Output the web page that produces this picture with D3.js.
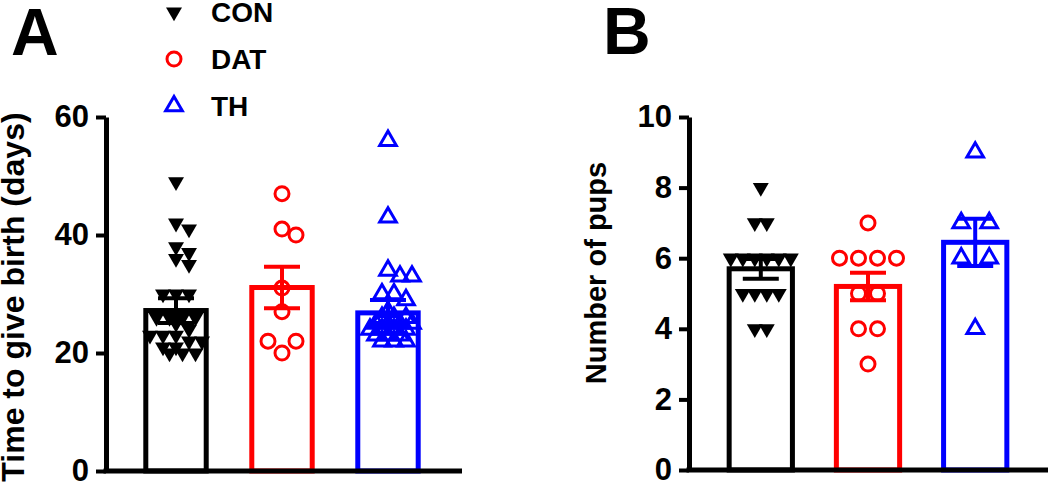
<!DOCTYPE html>
<html>
<head>
<meta charset="utf-8">
<script src="https://cdn.jsdelivr.net/npm/d3@7/dist/d3.min.js"></script>
<style>
  html, body { margin: 0; padding: 0; background: #fff; }
  svg { display: block; font-family: "Liberation Sans", Arial, Helvetica, sans-serif; font-weight: bold; }
</style>
</head>
<body>
<svg id="chart" width="1050" height="489"></svg>
<script>
// ---------------- data ----------------
const groups = ["CON", "DAT", "TH"];
const groupColors = ["#000000", "#ff0000", "#0000ff"];
const groupShapes = ["down", "circle", "up"];

// Panel A: time to give birth (days)
const birthCON = [49, 42, 41, 38, 37, 36, 35, 30, 30, 30, 26, 26, 26, 26, 25, 24, 23, 23, 23, 22, 22, 21, 21, 20, 20, 20];
const birthDAT = [47, 41, 40, 31, 27, 22, 22, 20];
const birthTH  = [56, 43, 34, 33, 33, 30, 30, 29, 27, 26, 26, 26, 25, 25, 25, 25, 24, 24, 24, 24, 23, 23, 23, 22, 22, 22];
const birthMean = [27.2, 31.1, 26.8];
const birthSEM  = [2.1, 3.5, 2.2];
const birthTicks = [0, 20, 40, 60];

// Panel B: number of pups
const pupsCON = [8, 7, 7, 6, 6, 6, 6, 6, 6, 5, 5, 5, 5, 4, 4];
const pupsDAT = [7, 6, 6, 6, 6, 5, 5, 4, 4, 3];
const pupsTH  = [9, 7, 7, 6, 6, 4];
const pupsMean = [5.7, 5.2, 6.45];
const pupsSEM  = [0.28, 0.39, 0.67];
const pupsTicks = [0, 2, 4, 6, 8, 10];

// ---------------- drawing ----------------
const svg = d3.select("#chart");

function symbolPath(shape) {
  if (shape === "circle") return d3.symbol(d3.symbolCircle, Math.PI * 7 * 7)();
  if (shape === "down") return d3.symbol(d3.symbolTriangle, 110)();
  return d3.symbol(d3.symbolTriangle, 120)();
}
function drawMarker(g, shape, color) {
  const p = g.append("path").attr("d", symbolPath(shape));
  if (shape === "down") {
    p.attr("transform", "rotate(180)").attr("fill", color).attr("stroke", "none");
  } else {
    p.attr("fill", "none").attr("stroke", color).attr("stroke-width", 3);
  }
  return p;
}

// beeswarm-like placement: equal values form centred rows, rows shift to avoid overlap
function swarm(values, y, spacing, minD) {
  const counts = d3.rollups(values, v => v.length, d => d).sort((a, b) => b[0] - a[0]);
  const placed = [];
  for (const [v, k] of counts) {
    const py = y(v);
    const base = d3.range(k).map(i => (i - (k - 1) / 2) * spacing);
    const shifts = [0, spacing / 2, -spacing / 2, spacing, -spacing, 1.5 * spacing, -1.5 * spacing];
    let best = 0, bestScore = -Infinity;
    for (const s of shifts) {
      let mind = Infinity;
      for (const b of base) for (const p of placed) {
        mind = Math.min(mind, Math.hypot(b + s - p.dx, py - p.y));
      }
      if (mind >= minD) { best = s; bestScore = Infinity; break; }
      if (mind > bestScore) { bestScore = mind; best = s; }
    }
    for (const b of base) placed.push({ v, dx: b + best, y: py });
  }
  return placed;
}

function panel(cfg) {
  const g = svg.append("g");
  const y = d3.scaleLinear().domain(cfg.domain).range([cfg.bottom, cfg.top]);
  const x = d3.scaleBand().domain(groups).range(cfg.xRange).paddingInner(cfg.padIn).paddingOuter(0.3);

  // bars
  g.selectAll("rect.bar").data(groups).join("rect")
    .attr("class", "bar")
    .attr("x", d => x(d))
    .attr("width", x.bandwidth())
    .attr("y", (d, i) => y(cfg.means[i]))
    .attr("height", (d, i) => y(0) - y(cfg.means[i]))
    .attr("fill", "#fff")
    .attr("stroke", (d, i) => groupColors[i])
    .attr("stroke-width", 5);

  // points
  groups.forEach((grp, i) => {
    const cx = x(grp) + x.bandwidth() / 2;
    const pts = swarm(cfg.values[i], y, cfg.spacing[i], groupShapes[i] === "circle" ? 14 : 9);
    pts.forEach(p => {
      const mg = g.append("g").attr("transform", `translate(${cx + p.dx},${p.y})`);
      drawMarker(mg, groupShapes[i], groupColors[i]);
    });
  });

  // error bars
  groups.forEach((grp, i) => {
    const cx = x(grp) + x.bandwidth() / 2;
    const hi = y(cfg.means[i] + cfg.sems[i]);
    const lo = y(cfg.means[i] - cfg.sems[i]);
    const eg = g.append("g").attr("stroke", groupColors[i]).attr("stroke-width", 4);
    eg.append("line").attr("x1", cx).attr("x2", cx).attr("y1", hi).attr("y2", lo);
    eg.append("line").attr("x1", cx - 18).attr("x2", cx + 18).attr("y1", hi).attr("y2", hi);
    eg.append("line").attr("x1", cx - 18).attr("x2", cx + 18).attr("y1", lo).attr("y2", lo);
  });

  // y axis
  const ax = g.append("g")
    .attr("transform", `translate(${cfg.axisX},0)`)
    .call(d3.axisLeft(y).tickValues(cfg.ticks).tickSize(10).tickSizeOuter(0).tickPadding(7).tickFormat(d3.format("d")));
  ax.select(".domain").attr("stroke", "#000").attr("stroke-width", 5);
  ax.selectAll(".tick line").attr("stroke", "#000").attr("stroke-width", 4);
  ax.selectAll(".tick text")
    .attr("fill", "#000")
    .style("font-size", cfg.tickFont + "px")
    .style("font-weight", "bold")
    .style("font-family", "'Liberation Sans', Arial, sans-serif");

  // x axis baseline
  g.append("line")
    .attr("x1", cfg.axisX - 2.5).attr("x2", cfg.xEnd)
    .attr("y1", y(0)).attr("y2", y(0))
    .attr("stroke", "#000").attr("stroke-width", 5);

  // y title
  g.append("text")
    .attr("transform", `translate(${cfg.titleX},${cfg.titleY}) rotate(-90)`)
    .attr("text-anchor", "middle")
    .style("font-size", cfg.titleFont + "px")
    .text(cfg.title);

  // panel letter
  g.append("text")
    .attr("x", cfg.letterX).attr("y", cfg.letterY)
    .style("font-size", "66px")
    .text(cfg.letter);
}

panel({
  letter: "A", letterX: 11, letterY: 55,
  domain: [0, 60], top: 117, bottom: 471, ticks: birthTicks,
  values: [birthCON, birthDAT, birthTH], means: birthMean, sems: birthSEM,
  xRange: [114, 450], padIn: 0.43, spacing: [13, 28, 12],
  axisX: 106, xEnd: 462, tickFont: 31,
  title: "Time to give birth (days)", titleX: 24, titleY: 297, titleFont: 32
});

panel({
  letter: "B", letterX: 603, letterY: 54,
  domain: [0, 10], top: 117, bottom: 470, ticks: pupsTicks,
  values: [pupsCON, pupsDAT, pupsTH], means: pupsMean, sems: pupsSEM,
  xRange: [697, 1039], padIn: 0.41, spacing: [12, 19, 28],
  axisX: 689, xEnd: 1048, tickFont: 31,
  title: "Number of pups", titleX: 606, titleY: 273, titleFont: 29
});

// legend
const legendY = [12, 59, 106];
const lg = svg.append("g");
groups.forEach((grp, i) => {
  const mg = lg.append("g").attr("transform", `translate(174,${legendY[i]})`);
  drawMarker(mg, groupShapes[i], groupColors[i]);
  lg.append("text")
    .attr("x", 211).attr("y", legendY[i] + 10)
    .style("font-size", "28px")
    .attr("fill", "#000")
    .text(grp);
});
</script>
</body>
</html>
